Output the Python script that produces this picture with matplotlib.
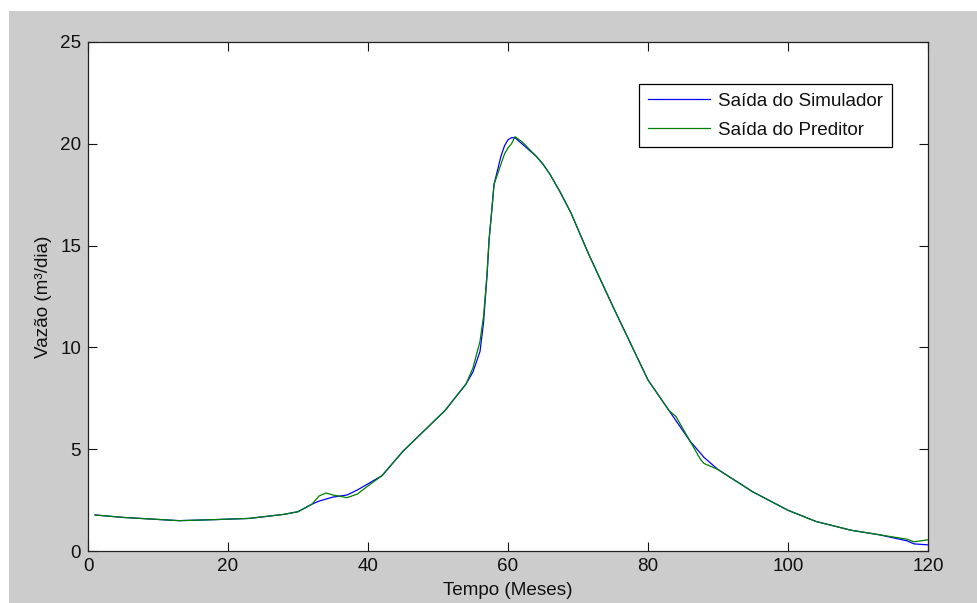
import numpy as np
import matplotlib
matplotlib.use('Agg')
import matplotlib.pyplot as plt
from matplotlib.patches import Rectangle

# data (months vs flow rate)
meses = [1, 5, 9, 13, 18, 23, 28, 30, 32, 33, 34, 35, 37, 38.5, 40, 42, 45, 48, 51,
         54, 55, 56, 56.5, 57, 57.3, 57.7, 58, 59, 59.5, 60, 60.5, 61, 62, 64, 65, 66,
         67.5, 69, 71.5, 75, 80, 83, 84, 86, 87.5, 88, 90, 95, 100, 104, 109, 113,
         117, 118, 120]
simulador = [1.77, 1.65, 1.57, 1.49, 1.54, 1.60, 1.80, 1.93, 2.30, 2.45, 2.55, 2.65, 2.75,
             3.00, 3.30, 3.70, 4.90, 5.90, 6.90, 8.20, 8.80, 9.80, 11.2, 13.5, 15.3,
             16.8, 18.0, 19.4, 19.9, 20.2, 20.3, 20.3, 20.0, 19.4, 19.0, 18.5, 17.6,
             16.6, 14.6, 12.0, 8.4, 6.9, 6.4, 5.4, 4.8, 4.6, 4.0, 2.9, 2.0, 1.45, 1.02,
             0.80, 0.50, 0.35, 0.30]
preditor = [1.77, 1.65, 1.57, 1.49, 1.54, 1.60, 1.80, 1.93, 2.30, 2.70, 2.85, 2.75, 2.62,
            2.80, 3.20, 3.70, 4.90, 5.90, 6.90, 8.20, 9.00, 10.3, 11.5, 13.6, 15.3,
            16.8, 18.0, 19.0, 19.5, 19.8, 20.0, 20.35, 20.1, 19.4, 19.0, 18.5, 17.6,
            16.6, 14.6, 12.0, 8.4, 6.9, 6.6, 5.4, 4.5, 4.3, 4.0, 2.9, 2.0, 1.45, 1.02,
            0.80, 0.58, 0.45, 0.55]

xticks = [0, 20, 40, 60, 80, 100, 120]
yticks = [0, 5, 10, 15, 20, 25]

plt.rcParams['font.family'] = ['Liberation Sans', 'DejaVu Sans']
plt.rcParams['font.size'] = 13.6

fig = plt.figure(figsize=(9.78, 6.03), dpi=100, facecolor='white')
# grey matlab-like figure window
fig.patches.append(Rectangle((9/978, 0), 1, 592/603, transform=fig.transFigure,
                             facecolor='#cccccc', edgecolor='none', zorder=-10))

ax = fig.add_axes([88/978, 52/603, 840/978, 509/603])
ax.set_facecolor('white')

ax.plot(meses, simulador, color='#0000ff', lw=0.9, label='Saída do Simulador')
ax.plot(meses, preditor, color='#008000', lw=0.9, label='Saída do Preditor')

ax.set_xlim(0, 120)
ax.set_ylim(0, 25)
ax.set_xticks(xticks)
ax.set_yticks(yticks)
ax.tick_params(direction='in', length=6.5, width=0.8, top=True, right=True,
               pad=5, colors='#111111')
for sp in ax.spines.values():
    sp.set_linewidth(0.9)
    sp.set_color('#222222')

ax.set_xlabel('Tempo (Meses)', labelpad=5, color='#111111')
ax.set_ylabel('Vazão (m³/dia)', labelpad=6, color='#111111')

leg = ax.legend(loc='upper right', bbox_to_anchor=(0.957, 0.9175), fancybox=False,
                framealpha=1, edgecolor='black', handlelength=3.3, handletextpad=0.45,
                labelspacing=0.62, borderpad=0.45, borderaxespad=0)
leg.get_frame().set_linewidth(0.9)
for t in leg.get_texts():
    t.set_color('#111111')

plt.savefig('out.png', dpi=100, facecolor=fig.get_facecolor())
